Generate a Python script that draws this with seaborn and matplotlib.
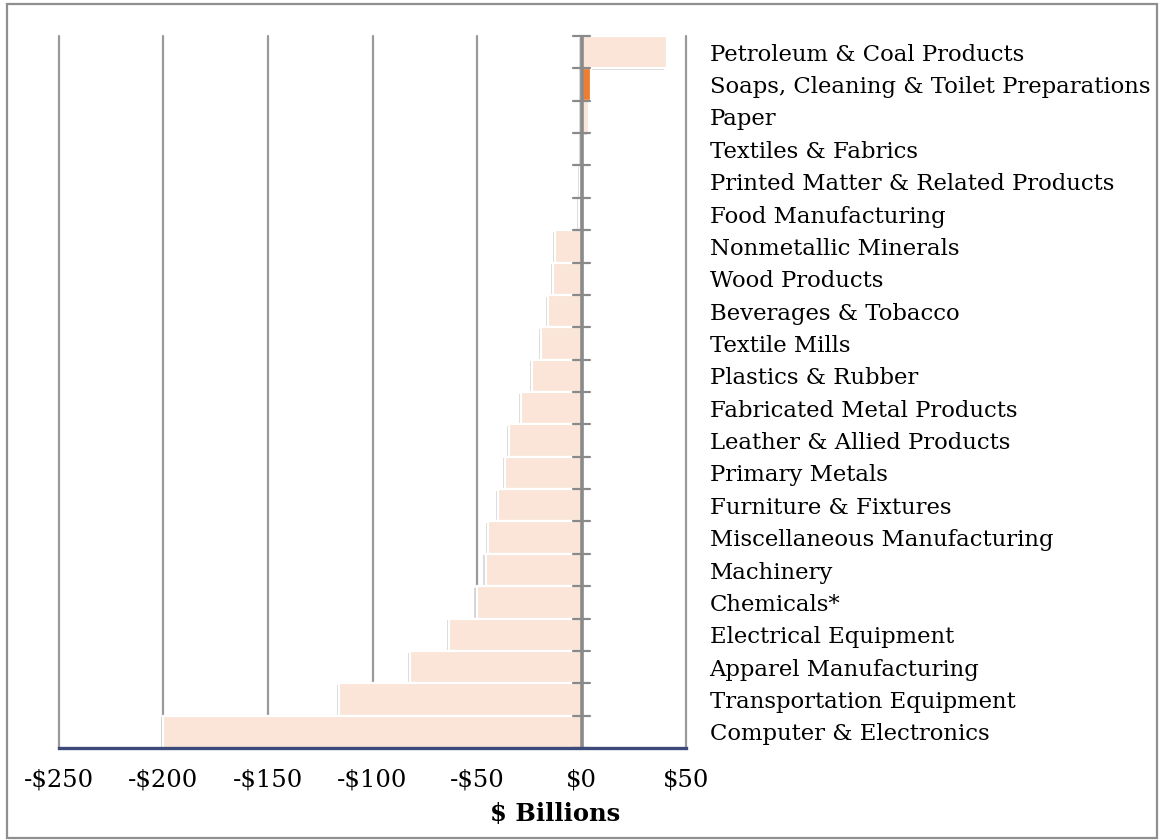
import matplotlib
matplotlib.use("Agg")
import matplotlib.pyplot as plt
import matplotlib.patheffects as pe
from matplotlib.patches import Rectangle
from matplotlib.ticker import FuncFormatter, FixedLocator
import numpy as np
import pandas as pd
import seaborn as sns

# Manufacturing trade balance by industry, $ billions
industries = [
    "Petroleum & Coal Products",
    "Soaps, Cleaning & Toilet Preparations",
    "Paper",
    "Textiles & Fabrics",
    "Printed Matter & Related Products",
    "Food Manufacturing",
    "Nonmetallic Minerals",
    "Wood Products",
    "Beverages & Tobacco",
    "Textile Mills",
    "Plastics & Rubber",
    "Fabricated Metal Products",
    "Leather & Allied Products",
    "Primary Metals",
    "Furniture & Fixtures",
    "Miscellaneous Manufacturing",
    "Machinery",
    "Chemicals*",
    "Electrical Equipment",
    "Apparel Manufacturing",
    "Transportation Equipment",
    "Computer & Electronics",
]
balance = [40.7, 4.6, 3.5, 0.6, -0.8, -1.2, -12.5, -13.4, -15.9, -19.3, -23.6,
           -29.0, -34.8, -36.7, -39.8, -44.6, -45.9, -50.2, -63.3, -82.1, -116.0, -200.3]
highlighted = "Soaps, Cleaning & Toilet Preparations"
x_ticks = [-250, -200, -150, -100, -50, 0, 50]

base_color = "#FAE5D8"
accent_color = "#ED7D31"
grid_color = "#9a9a9a"
zero_color = "#8a8a8a"
axis_navy = "#3b4a78"

df = pd.DataFrame({"industry": industries, "balance": balance})
palette = {name: (accent_color if name == highlighted else base_color) for name in industries}

sns.set_theme(style="white")
plt.rcParams["font.family"] = ["DejaVu Serif"]

fig = plt.figure(figsize=(11.6, 8.4), dpi=100)
ax = fig.add_axes([59 / 1160, 1 - 748 / 840, (686 - 59) / 1160, (748 - 36) / 840])

sns.barplot(data=df, x="balance", y="industry", hue="industry", palette=palette,
            order=industries, hue_order=industries, legend=False, width=1.0,
            orient="h", saturation=1.0, edgecolor="white", linewidth=1.6, ax=ax)

shadow = [pe.SimplePatchShadow(offset=(-1.5, -1.2), shadow_rgbFace="#000000", alpha=0.15), pe.Normal()]
for patch in ax.patches:
    patch.set_path_effects(shadow)

ax.set_xlim(x_ticks[0], x_ticks[-1])
ax.set_ylim(len(industries) - 0.5, -0.5)

# vertical gridlines
ax.xaxis.set_major_locator(FixedLocator(x_ticks))
ax.grid(axis="x", color=grid_color, linewidth=1.6)
ax.grid(axis="y", visible=False)
ax.set_axisbelow(True)
for gl in ax.get_xgridlines():
    gl.set_clip_on(False)

def dollars(v, _pos):
    v = int(round(v))
    return f"-${abs(v)}" if v < 0 else f"${v}"

ax.xaxis.set_major_formatter(FuncFormatter(dollars))
ax.tick_params(axis="x", direction="out", length=4.5, width=1.5, color=axis_navy,
               labelsize=17.5, pad=10, labelcolor="black")

# category labels on the right
ax.yaxis.tick_right()
ax.tick_params(axis="y", length=0, labelsize=16.4, pad=17, labelcolor="black")
for lbl in ax.get_yticklabels():
    lbl.set_horizontalalignment("left")
ax.set_ylabel("")

for side in ["top", "left", "right"]:
    ax.spines[side].set_visible(False)
ax.spines["bottom"].set_color(axis_navy)
ax.spines["bottom"].set_linewidth(2.4)
ax.spines["bottom"].set_zorder(4)

ax.set_xlabel("$ Billions", fontsize=17.5, fontweight="bold", va="top", color="black")
ax.xaxis.set_label_coords(0.791, -0.076)

# zero line with separators between categories
ax.axvline(0, color=zero_color, linewidth=2.6, zorder=3)
zero_pos = (0 - x_ticks[0]) / (x_ticks[-1] - x_ticks[0])
half_tick = 8.5 / 627
for b in np.arange(len(industries) + 1) - 0.5:
    ax.axhline(b, xmin=zero_pos - half_tick, xmax=zero_pos + half_tick,
               color=zero_color, linewidth=1.6, zorder=3, clip_on=False)

# chart border
fig.patches.append(Rectangle((7 / 1160, 2 / 840), 1150 / 1160, 834 / 840,
                             transform=fig.transFigure, fill=False,
                             edgecolor="#8f8f8f", linewidth=1.6))

fig.savefig("out.png", dpi=100, facecolor="white")
